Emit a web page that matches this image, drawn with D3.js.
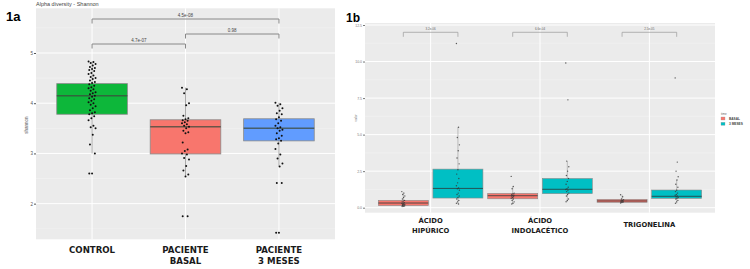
<!DOCTYPE html>
<html>
<head>
<meta charset="utf-8">
<title>Alpha diversity and metabolites</title>
<script src="https://d3js.org/d3.v7.min.js"></script>
<style>
  body { margin: 0; background: #fff; }
  text { font-family: "Liberation Sans", Arial, sans-serif; }
</style>
</head>
<body>
<script>
// ---- panel 1a data ----
var leftCats = ["CONTROL", "PACIENTE BASAL", "PACIENTE 3 MESES"];
var leftLabels = [["CONTROL"], ["PACIENTE", "BASAL"], ["PACIENTE", "3 MESES"]];
var leftColors = ["#0db73a", "#f8766d", "#619cff"];
var leftQ1 = [3.78, 2.99, 3.25];
var leftMed = [4.15, 3.53, 3.50];
var leftQ3 = [4.39, 3.67, 3.69];
var leftLo = [3.00, 2.54, 2.74];
var leftHi = [4.83, 4.31, 4.01];
var leftTicks = [2, 3, 4, 5];
var controlPts = [4.83, 4.82, 4.8, 4.78, 4.75, 4.72, 4.7, 4.68, 4.66, 4.64, 4.6, 4.58, 4.55, 4.52, 4.5, 4.48,
  4.45, 4.42, 4.4, 4.38, 4.35, 4.32, 4.3, 4.28, 4.25, 4.22, 4.2, 4.18, 4.15, 4.13, 4.1, 4.08, 4.05, 4.02,
  4.0, 3.97, 3.94, 3.9, 3.86, 3.82, 3.8, 3.78, 3.74, 3.7, 3.66, 3.55, 3.52, 3.5, 3.37, 3.18, 3.0, 2.6, 2.6];
var basalPts = [4.31, 4.28, 4.2, 4.0, 3.96, 3.75, 3.7, 3.68, 3.66, 3.65, 3.62, 3.6, 3.58, 3.55, 3.53, 3.5,
  3.45, 3.42, 3.4, 3.22, 3.08, 3.05, 3.0, 2.98, 2.91, 2.88, 2.75, 2.66, 2.58, 2.54, 1.75, 1.75];
var mesesPts = [4.01, 3.98, 3.95, 3.9, 3.85, 3.8, 3.78, 3.72, 3.68, 3.65, 3.6, 3.55, 3.52, 3.5, 3.47, 3.45,
  3.4, 3.35, 3.3, 3.28, 3.25, 3.2, 3.09, 2.98, 2.9, 2.8, 2.74, 2.41, 2.41, 1.42, 1.42];
var leftPoints = [controlPts, basalPts, mesesPts];
var leftPairs = [[0, 1], [1, 2], [0, 2]];
var leftPvals = ["4.7e-07", "0.98", "4.5e-08"];
var leftPy = [44, 34, 19];

// ---- panel 1b data ----
var compounds = ["ÁCIDO HIPÚRICO", "ÁCIDO INDOLACÉTICO", "TRIGONELINA"];
var compoundLabels = [["ÁCIDO", "HIPÚRICO"], ["ÁCIDO", "INDOLACÉTICO"], ["TRIGONELINA"]];
var times = ["BASAL", "3 MESES"];
var timeColors = ["#f8766d", "#00bfc4"];
var basalQ1 = [0.14, 0.61, 0.37], basalMed = [0.32, 0.82, 0.46], basalQ3 = [0.505, 0.98, 0.57];
var basalLo = [0.07, 0.25, 0.32], basalHi = [1.05, 1.45, 0.89];
var tresQ1 = [0.66, 0.96, 0.64], tresMed = [1.32, 1.26, 0.78], tresQ3 = [2.64, 2.0, 1.21];
var tresLo = [0.25, 0.41, 0.3], tresHi = [5.51, 3.19, 1.9];
var basalVals = [
  [1.1, 1.0, 0.9, 0.8, 0.7, 0.6, 0.5, 0.45, 0.4, 0.35, 0.3, 0.28, 0.25, 0.22, 0.2, 0.18, 0.15, 0.12, 0.1, 0.08],
  [2.14, 1.45, 1.3, 1.0, 0.95, 0.9, 0.85, 0.82, 0.8, 0.75, 0.7, 0.65, 0.6, 0.5, 0.4, 0.3, 0.25],
  [0.89, 0.75, 0.6, 0.55, 0.5, 0.48, 0.45, 0.42, 0.4, 0.38, 0.35, 0.32]
];
var tresVals = [
  [11.23, 5.5, 4.8, 4.3, 3.9, 3.4, 3.0, 2.6, 2.3, 2.0, 1.7, 1.5, 1.35, 1.3, 1.2, 1.0, 0.9, 0.8, 0.7, 0.6, 0.5, 0.4, 0.3, 0.25],
  [9.9, 7.38, 3.19, 2.8, 2.5, 2.2, 2.0, 1.8, 1.6, 1.4, 1.3, 1.25, 1.2, 1.1, 1.0, 0.9, 0.8, 0.6, 0.5, 0.41],
  [8.88, 3.12, 2.5, 2.12, 1.9, 1.6, 1.4, 1.2, 1.1, 1.0, 0.9, 0.85, 0.8, 0.75, 0.7, 0.65, 0.6, 0.5, 0.4, 0.3]
];
var rightTicks = [0, 2.5, 5, 7.5, 10, 12.5];
var rightPvals = ["3.2e-06", "6.6e-04", "2.5e-05"];

// small deterministic horizontal spread for the points
function jit(i) { return ((i * 7) % 11 - 5) / 5; }

var svg = d3.select("body").append("svg")
  .attr("width", 750).attr("height", 269);

// ================= panel 1a =================
var lx = d3.scalePoint().domain(leftCats).range([36, 335]).padding(0.6);
var ly = d3.scaleLinear().domain([1.29, 5.89]).range([239.3, 8.3]);
var lg = svg.append("g");

lg.append("rect").attr("x", 36).attr("y", 8.3).attr("width", 299).attr("height", 231)
  .attr("fill", "#ebebeb");
// minor + major grid
lg.selectAll(".lminor").data(leftTicks.map(function(t) { return t + 0.5; }).concat([1.5]))
  .enter().append("line")
  .attr("x1", 36).attr("x2", 335)
  .attr("y1", function(d) { return ly(d); }).attr("y2", function(d) { return ly(d); })
  .attr("stroke", "#f5f5f5").attr("stroke-width", 0.5);
lg.selectAll(".lmajor").data(leftTicks).enter().append("line")
  .attr("x1", 36).attr("x2", 335)
  .attr("y1", function(d) { return ly(d); }).attr("y2", function(d) { return ly(d); })
  .attr("stroke", "#fff").attr("stroke-width", 1);
lg.selectAll(".lvert").data(leftCats).enter().append("line")
  .attr("x1", function(d) { return lx(d); }).attr("x2", function(d) { return lx(d); })
  .attr("y1", 8.3).attr("y2", 239.3)
  .attr("stroke", "#fff").attr("stroke-width", 1);

// y axis
var lAxis = lg.append("g").attr("transform", "translate(36,0)")
  .call(d3.axisLeft(ly).tickValues(leftTicks).tickFormat(d3.format("d")).tickSize(2).tickPadding(1));
lAxis.select(".domain").remove();
lAxis.selectAll("line").attr("stroke", "#555");
lAxis.selectAll("text").attr("font-size", 4.5).attr("fill", "#555");

lg.append("text").attr("transform", "translate(28,125) rotate(-90)")
  .attr("text-anchor", "middle").attr("font-size", 4.5).attr("fill", "#555").text("shannon");
lg.append("text").attr("x", 36).attr("y", 6).attr("font-size", 5.5).attr("fill", "#444")
  .text("Alpha diversity - Shannon");
svg.append("text").attr("x", 6).attr("y", 21).attr("font-size", 13).attr("font-weight", "bold")
  .text("1a");

// boxes
var lbw = 70.6;
leftCats.forEach(function(c, i) {
  var cx = lx(c);
  lg.append("line").attr("x1", cx).attr("x2", cx)
    .attr("y1", ly(leftHi[i])).attr("y2", ly(leftLo[i]))
    .attr("stroke", "#aaa").attr("stroke-width", 1);
  lg.append("rect").attr("x", cx - lbw / 2).attr("y", ly(leftQ3[i]))
    .attr("width", lbw).attr("height", ly(leftQ1[i]) - ly(leftQ3[i]))
    .attr("fill", leftColors[i]).attr("stroke", "#8a8a8a").attr("stroke-width", 0.8);
  lg.append("line").attr("x1", cx - lbw / 2).attr("x2", cx + lbw / 2)
    .attr("y1", ly(leftMed[i])).attr("y2", ly(leftMed[i]))
    .attr("stroke", "#3d4a3d").attr("stroke-width", 1.4).attr("opacity", 0.75);
  lg.selectAll(".pt" + i).data(leftPoints[i]).enter().append("circle")
    .attr("cx", function(d, k) { return cx + jit(k) * 3.5; })
    .attr("cy", function(d) { return ly(d); })
    .attr("r", 1).attr("fill", "#111");
  leftLabels[i].forEach(function(t, k) {
    lg.append("text").attr("x", cx).attr("y", 253 + k * 11).attr("text-anchor", "middle")
      .style("font-family", "'DejaVu Sans', sans-serif")
      .attr("font-size", 8.6).attr("font-weight", "bold").attr("fill", "#1a1a1a").text(t);
  });
});

// significance brackets
leftPairs.forEach(function(p, i) {
  var x1 = lx(leftCats[p[0]]), x2 = lx(leftCats[p[1]]), y = leftPy[i];
  lg.append("path")
    .attr("d", "M" + x1 + "," + (y + 4.5) + "V" + y + "H" + x2 + "V" + (y + 4.5))
    .attr("fill", "none").attr("stroke", "#888").attr("stroke-width", 1);
  lg.append("text").attr("x", (x1 + x2) / 2).attr("y", y - 2).attr("text-anchor", "middle")
    .attr("font-size", 4.5).attr("fill", "#444").text(leftPvals[i]);
});

// ================= panel 1b =================
var rx = d3.scalePoint().domain(compounds).range([365, 715]).padding(0.6);
var ry = d3.scaleLinear().domain([-0.342, 12.637]).range([212.7, 23]);
var rg = svg.append("g");

rg.append("rect").attr("x", 365).attr("y", 23).attr("width", 350).attr("height", 189.7)
  .attr("fill", "#ebebeb");
rg.selectAll(".rminor").data(rightTicks.map(function(t) { return t + 1.25; }).slice(0, 5))
  .enter().append("line")
  .attr("x1", 365).attr("x2", 715)
  .attr("y1", function(d) { return ry(d); }).attr("y2", function(d) { return ry(d); })
  .attr("stroke", "#f5f5f5").attr("stroke-width", 0.5);
rg.selectAll(".rmajor").data(rightTicks).enter().append("line")
  .attr("x1", 365).attr("x2", 715)
  .attr("y1", function(d) { return ry(d); }).attr("y2", function(d) { return ry(d); })
  .attr("stroke", "#fff").attr("stroke-width", 1);
rg.selectAll(".rvert").data(compounds).enter().append("line")
  .attr("x1", function(d) { return rx(d); }).attr("x2", function(d) { return rx(d); })
  .attr("y1", 23).attr("y2", 212.7)
  .attr("stroke", "#fff").attr("stroke-width", 1);

var rAxis = rg.append("g").attr("transform", "translate(365,0)")
  .call(d3.axisLeft(ry).tickValues(rightTicks).tickFormat(d3.format(".1f")).tickSize(2).tickPadding(1));
rAxis.select(".domain").remove();
rAxis.selectAll("line").attr("stroke", "#777");
rAxis.selectAll("text").attr("font-size", 3.5).attr("fill", "#777");
rg.append("text").attr("transform", "translate(357,118) rotate(-90)")
  .attr("text-anchor", "middle").attr("font-size", 3.5).attr("fill", "#777").text("valor");
svg.append("text").attr("x", 346).attr("y", 21.7).attr("font-size", 12).attr("font-weight", "bold")
  .text("1b");

var off = 27.3, rbw = 50;
var stats = [
  { q1: basalQ1, med: basalMed, q3: basalQ3, lo: basalLo, hi: basalHi, vals: basalVals },
  { q1: tresQ1, med: tresMed, q3: tresQ3, lo: tresLo, hi: tresHi, vals: tresVals }
];
compounds.forEach(function(c, i) {
  stats.forEach(function(s, j) {
    var cx = rx(c) + (j === 0 ? -off : off);
    rg.append("line").attr("x1", cx).attr("x2", cx)
      .attr("y1", ry(s.hi[i])).attr("y2", ry(s.lo[i]))
      .attr("stroke", "#999").attr("stroke-width", 0.6);
    rg.append("rect").attr("x", cx - rbw / 2).attr("y", ry(s.q3[i]))
      .attr("width", rbw).attr("height", ry(s.q1[i]) - ry(s.q3[i]))
      .attr("fill", timeColors[j]).attr("stroke", "#8a8a8a").attr("stroke-width", 0.6);
    rg.append("line").attr("x1", cx - rbw / 2).attr("x2", cx + rbw / 2)
      .attr("y1", ry(s.med[i])).attr("y2", ry(s.med[i]))
      .attr("stroke", "#2d3a3a").attr("stroke-width", 1).attr("opacity", 0.8);
    rg.selectAll(".rp" + i + "_" + j).data(s.vals[i]).enter().append("circle")
      .attr("cx", function(d, k) { return cx + jit(k) * 1.5; })
      .attr("cy", function(d) { return ry(d); })
      .attr("r", 0.7).attr("fill", "#333").attr("opacity", 0.8);
  });
  var x1 = rx(c) - off, x2 = rx(c) + off, y = 32.3;
  rg.append("path")
    .attr("d", "M" + x1 + "," + (y + 4.5) + "V" + y + "H" + x2 + "V" + (y + 4.5))
    .attr("fill", "none").attr("stroke", "#999").attr("stroke-width", 0.7);
  rg.append("text").attr("x", (x1 + x2) / 2).attr("y", y - 2.5).attr("text-anchor", "middle")
    .attr("font-size", 3).attr("fill", "#666").text(rightPvals[i]);
  compoundLabels[i].forEach(function(t, k) {
    var y0 = compoundLabels[i].length === 1 ? 227 : 223 + k * 10;
    rg.append("text").attr("x", rx(c)).attr("y", y0).attr("text-anchor", "middle")
      .style("font-family", "'DejaVu Sans', sans-serif")
      .attr("font-size", 6.8).attr("font-weight", "bold").attr("fill", "#1a1a1a").text(t);
  });
});

// legend
var leg = svg.append("g");
leg.append("text").attr("x", 721).attr("y", 115).attr("font-size", 3).attr("fill", "#666").text("time");
times.forEach(function(t, i) {
  leg.append("rect").attr("x", 721).attr("y", 117 + i * 5.3).attr("width", 4).attr("height", 3)
    .attr("fill", timeColors[i]).attr("stroke", "#999").attr("stroke-width", 0.3);
  leg.append("text").attr("x", 729).attr("y", 119.8 + i * 5.3).attr("font-size", 3.2)
    .attr("font-weight", "bold").attr("fill", "#444").text(t);
});
</script>
</body>
</html>
